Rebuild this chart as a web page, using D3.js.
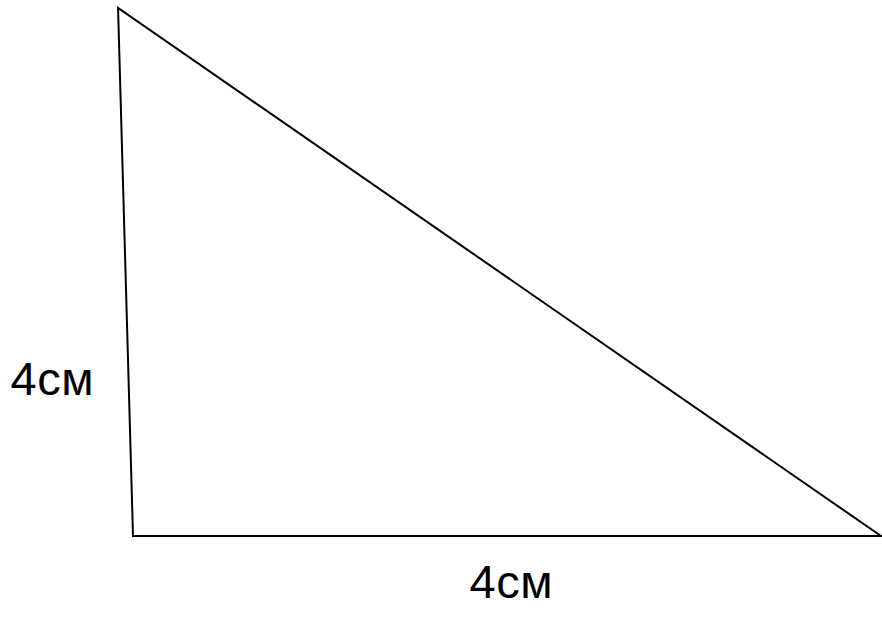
<!DOCTYPE html>
<html><head><meta charset="utf-8">
<script src="https://cdn.jsdelivr.net/npm/d3@7"></script>
<style>html,body{margin:0;padding:0;background:#fff;}</style>
</head><body>
<svg id="c" width="882" height="627"></svg>
<script>
// Triangle vertices in side-length units (cm)
const vertexNames = ["A", "B", "C"];
const vertexX = [-0.08, 0, 4];
const vertexY = [4, 0, 0];
// Side labels
const labelTexts = ["4см", "4см"];
const labelX = [-0.655, 1.8];
const labelY = [1.07, -0.47];

const svg = d3.select("#c");
const x = d3.scaleLinear().domain([0, 4]).range([133, 881]);
const y = d3.scaleLinear().domain([0, 4]).range([536, 8]);

const pts = vertexX.map((v, i) => [x(v), y(vertexY[i])]);
svg.append("path")
  .attr("d", d3.line()(pts) + "Z")
  .attr("fill", "none")
  .attr("stroke", "#000")
  .attr("stroke-width", 2)
  .attr("stroke-linejoin", "miter");

svg.selectAll("text.lbl").data(labelTexts).join("text")
  .attr("class", "lbl")
  .attr("x", (d, i) => x(labelX[i]))
  .attr("y", (d, i) => y(labelY[i]))
  .attr("font-family", "Liberation Sans, Arial, sans-serif")
  .attr("font-size", 47)
  .attr("letter-spacing", 0.5)
  .attr("fill", "#000")
  .text(d => d);
</script>
</body></html>
